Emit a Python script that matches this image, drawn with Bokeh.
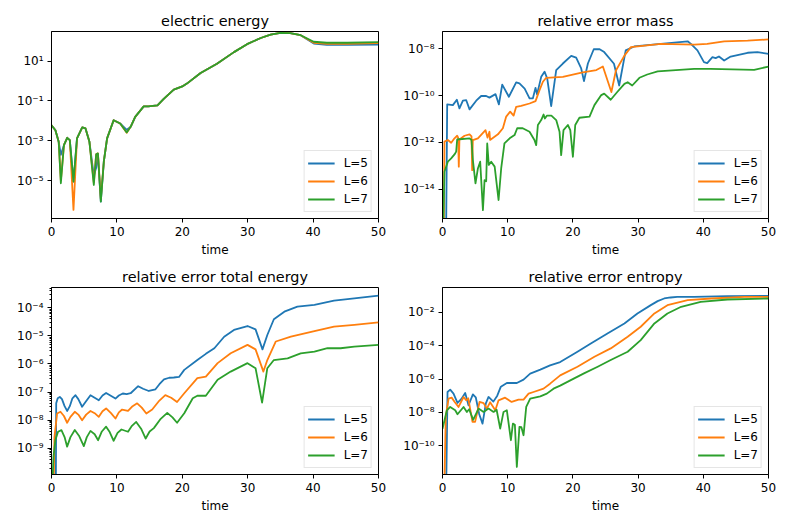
import numpy as np
from bokeh.plotting import figure
from bokeh.models import Range1d, FixedTicker, CustomJSTickFormatter
from bokeh.layouts import gridplot
from bokeh.embed import file_html
from bokeh.resources import INLINE

# ---------------- data (values are log10 of the plotted quantity) ----------------
series_labels = ["L=5", "L=6", "L=7"]
series_colors = ["#1f77b4", "#ff7f0e", "#2ca02c"]
x_tick_values = [0, 10, 20, 30, 40, 50]

# electric energy
ee_t = [0, 0.6, 1.1, 1.43, 1.9, 2.4, 2.8, 3.36, 3.9, 4.7, 5.2, 5.8, 6.47, 6.83, 7.1, 7.54, 8.0, 8.5, 9.5, 10.5,
        11.5, 12.1, 12.8, 14.1, 14.8, 16.2, 17.2, 18.7, 20.0, 20.7, 22.8, 25.3, 27.9, 29.9, 32.0, 33.5, 35.0, 36.5,
        38.1, 40.1, 42.1, 45.2, 50]
ee_L5_log = [-2.22, -2.47, -3.05, -3.7, -3.22, -2.85, -2.97, -5.05, -2.88, -2.33, -2.38, -3.05, -4.75, -4.35, -3.7,
             -6.05, -4.05, -2.88, -1.97, -2.13, -2.45, -2.3, -1.8, -1.27, -1.27, -1.22, -0.88, -0.43, -0.27, -0.13,
             0.4, 0.87, 1.45, 1.85, 2.16, 2.33, 2.42, 2.4, 2.3, 1.88, 1.82, 1.82, 1.83]
ee_L6_log = [-2.22, -2.47, -3.05, -5.0, -3.22, -2.85, -2.97, -6.47, -2.88, -2.33, -2.38, -3.05, -5.1, -3.68, -3.63,
             -5.9, -4.05, -2.88, -1.97, -2.13, -2.6, -2.3, -1.8, -1.27, -1.27, -1.22, -0.88, -0.43, -0.27, -0.13,
             0.4, 0.87, 1.45, 1.85, 2.16, 2.33, 2.42, 2.4, 2.3, 1.92, 1.87, 1.87, 1.9]
ee_L7_log = [-2.22, -2.47, -3.05, -5.13, -3.22, -2.85, -2.97, -5.05, -2.88, -2.33, -2.38, -3.05, -5.22, -3.68, -3.63,
             -6.05, -4.05, -2.88, -1.97, -2.13, -2.58, -2.3, -1.8, -1.27, -1.27, -1.22, -0.88, -0.43, -0.27, -0.13,
             0.4, 0.87, 1.45, 1.85, 2.16, 2.33, 2.42, 2.4, 2.3, 1.97, 1.92, 1.92, 1.95]
ee_ytick_exps = [-5, -3, -1, 1]

# relative error mass
mass_L5_t = [0, 0.55, 0.72, 1.59, 2.2, 2.6, 3.13, 3.64, 4.15, 5.17, 5.93, 6.7, 7.2, 8.13, 8.65, 9.16, 10.18, 11.3,
             11.8, 12.6, 13.35, 13.86, 14.27, 14.5, 15.14, 15.65, 16.06, 16.67, 17.44, 18.46, 19.74, 20.5, 21.27,
             21.7, 22.3, 23.2, 24.1, 24.8, 26.3, 27.1, 28.1, 29.4, 33.5, 37.6, 38.1, 39.1, 40.1, 40.6, 41.4, 41.9,
             42.4, 43.2, 44.2, 46.8, 48.3, 50]
mass_L5_log = [-16, -16, -10.38, -10.41, -10.18, -10.55, -10.22, -10.2, -10.59, -10.22, -10.02, -10.02, -10.09,
               -9.94, -10.38, -9.53, -10.05, -9.44, -9.48, -9.7, -10.12, -10.12, -9.67, -9.95, -9.2, -8.98, -9.27,
               -10.45, -8.91, -8.63, -8.3, -8.38, -8.84, -9.38, -8.63, -8.02, -8.02, -8.14, -8.64, -9.57, -8.07,
               -7.9, -7.79, -7.68, -7.79, -8.07, -8.57, -8.61, -8.36, -8.4, -8.33, -8.5, -8.33, -8.17, -8.14, -8.22]
mass_L6_t = [0, 0.2, 0.3, 0.82, 1.33, 1.84, 2.25, 2.4, 2.5, 2.6, 2.76, 3.38, 4.15, 4.45, 4.55, 4.65, 4.76, 5.43,
             6.6, 6.9, 7.2, 7.3, 8.5, 9.26, 9.77, 10.38, 10.9, 11.3, 12.06, 13.35, 14.27, 14.88, 15.4, 15.9, 18.46,
             21.5, 23.6, 24.6, 25.9, 26.6, 27.9, 28.9, 33.5, 38.6, 40.6, 43.2, 46.8, 50]
mass_L6_log = [-16, -15.5, -11.97, -11.9, -12.02, -11.83, -11.72, -11.8, -13.04, -11.85, -11.85, -11.72, -11.66,
               -11.75, -13.19, -11.9, -11.9, -11.83, -11.48, -11.8, -11.55, -11.9, -11.66, -11.4, -10.9, -10.69,
               -10.86, -10.48, -10.44, -10.34, -10.24, -9.77, -9.41, -9.24, -9.2, -9.01, -8.91, -8.76, -9.85, -8.93,
               -8.29, -7.93, -7.79, -7.82, -7.79, -7.68, -7.65, -7.6]
mass_L7_t = [0, 0.12, 0.3, 0.82, 1.33, 1.84, 2.1, 2.25, 4.15, 4.45, 4.66, 5.06, 5.43, 5.78, 6.2, 6.45, 6.7, 6.86,
             7.1, 7.47, 8.0, 8.6, 9.0, 9.5, 10.3, 11.05, 11.46, 12.3, 13.35, 14.1, 14.37, 14.63, 15.14, 15.5, 15.7,
             16.0, 16.7, 17.44, 17.95, 18.2, 18.56, 19.23, 19.6, 20.0, 20.36, 21.0, 22.55, 23.3, 24.35, 24.8, 25.8,
             26.8, 27.9, 28.4, 29.1, 30.2, 31.4, 33.0, 38.6, 41.1, 47.8, 50]
mass_L7_log = [-14.1, -15.5, -13.26, -12.83, -12.69, -12.52, -12.4, -11.88, -11.83, -11.9, -12.76, -13.76, -13.12,
               -12.83, -14.9, -13.62, -13.67, -12.05, -12.97, -12.83, -13.04, -14.47, -13.12, -12.05, -11.83,
               -11.69, -11.4, -11.4, -11.55, -11.9, -12.12, -11.26, -11.05, -10.81, -10.98, -10.86, -10.86, -11.05,
               -11.55, -12.55, -11.48, -11.26, -11.48, -12.62, -11.26, -10.95, -10.9, -10.41, -9.98, -9.92, -10.18,
               -9.85, -9.5, -9.43, -9.57, -9.24, -9.1, -8.97, -8.86, -8.86, -8.9, -8.76]
mass_ytick_exps = [-14, -12, -10, -8]

# relative error total energy
te_L5_t = [0, 0.65, 0.72, 0.95, 1.27, 1.6, 2.0, 2.39, 2.8, 3.2, 3.67, 4.1, 4.68, 5.2, 5.96, 6.6, 7.23, 7.8, 8.35,
           9.0, 9.78, 10.3, 10.9, 11.5, 12.1, 13.25, 14.0, 14.88, 15.9, 16.5, 17.2, 18.0, 18.7, 19.5, 20.3, 22.3,
           23.6, 24.9, 26.4, 27.9, 29.97, 31.2, 32.26, 33.0, 34.0, 35.6, 37.6, 40.2, 43.2, 46.3, 50]
te_L5_log = [-11, -11, -7.4, -7.22, -7.17, -7.25, -7.5, -7.67, -7.5, -7.22, -7.11, -7.25, -7.52, -7.35, -7.11,
             -7.2, -7.29, -7.12, -7.03, -7.12, -7.23, -7.12, -7.05, -7.07, -7.04, -6.79, -6.88, -6.96, -6.9, -6.72,
             -6.55, -6.49, -6.48, -6.46, -6.21, -5.86, -5.64, -5.44, -5.03, -4.79, -4.65, -4.77, -5.48, -4.97,
             -4.41, -4.14, -3.96, -3.9, -3.75, -3.67, -3.57]
te_L6_t = [0, 0.3, 0.45, 0.86, 1.37, 1.9, 2.39, 2.9, 3.56, 4.1, 4.68, 5.3, 5.96, 6.6, 7.23, 7.8, 8.35, 9.1, 9.78,
           10.3, 10.8, 11.7, 12.4, 13.1, 13.8, 14.5, 15.4, 16.5, 17.4, 18.3, 19.2, 20.3, 22.3, 23.6, 25.4, 27.4,
           29.97, 31.2, 32.4, 33.0, 34.3, 36.6, 40.2, 43.2, 46.3, 50]
te_L6_log = [-11, -11, -8.6, -7.76, -7.7, -7.85, -8.09, -7.88, -7.7, -7.8, -8.0, -7.8, -7.67, -7.75, -7.88, -7.68,
             -7.58, -7.75, -7.94, -7.72, -7.62, -7.67, -7.5, -7.4, -7.55, -7.76, -7.62, -7.3, -7.11, -7.2, -7.35,
             -7.04, -6.5, -6.45, -5.97, -5.62, -5.32, -5.48, -6.27, -5.86, -5.2, -5.03, -4.83, -4.67, -4.61, -4.52]
te_L7_t = [0, 0.1, 0.3, 0.6, 1.0, 1.52, 2.0, 2.39, 2.9, 3.56, 4.2, 4.94, 5.4, 5.96, 6.6, 7.13, 7.7, 8.35, 8.9, 9.5,
           10.1, 10.7, 11.7, 12.3, 12.95, 13.7, 14.4, 15.0, 15.65, 16.7, 17.7, 18.5, 19.2, 20.3, 21.6, 22.3, 23.6,
           25.4, 27.4, 29.97, 31.2, 32.2, 33.0, 34.0, 36.1, 38.1, 40.2, 42.2, 44.2, 46.3, 50]
te_L7_log = [-11, -10.5, -9.3, -8.7, -8.41, -8.35, -8.6, -8.94, -8.6, -8.35, -8.55, -8.92, -8.6, -8.38, -8.5, -8.71,
             -8.4, -8.23, -8.42, -8.73, -8.45, -8.33, -8.41, -8.2, -8.06, -8.3, -8.65, -8.4, -8.28, -7.95, -7.74,
             -7.9, -8.09, -7.75, -7.22, -7.13, -7.13, -6.56, -6.27, -5.97, -6.15, -7.37, -6.15, -5.86, -5.8, -5.62,
             -5.56, -5.44, -5.44, -5.38, -5.32]
te_ytick_exps = [-9, -8, -7, -6, -5, -4]

# relative error entropy
ent_L5_t = [0, 0.55, 0.77, 1.18, 1.69, 2.3, 2.9, 3.48, 3.99, 4.66, 5.1, 5.62, 6.14, 6.65, 7.06, 7.8, 8.4, 8.95,
            9.87, 11.4, 12.43, 13.45, 15.0, 16.5, 18.05, 20.7, 22.75, 25.3, 27.9, 29.9, 31.95, 33.0, 34.0, 35.0,
            36.0, 38.6, 43.7, 50]
ent_L5_log = [-13, -13, -6.78, -6.64, -6.88, -7.44, -7.2, -6.84, -7.58, -6.92, -7.1, -8.1, -8.68, -7.46, -7.08,
              -7.36, -7.0, -6.46, -6.24, -6.24, -6.04, -5.68, -5.44, -5.18, -4.98, -4.36, -3.86, -3.26, -2.66,
              -2.06, -1.56, -1.32, -1.16, -1.1, -1.06, -1.06, -1.02, -1.0]
ent_L6_t = [0, 0.25, 0.5, 0.93, 1.4, 1.9, 2.46, 3.23, 3.63, 3.95, 4.6, 5.0, 5.68, 6.3, 6.8, 7.3, 8.1, 8.6, 9.6,
            10.6, 11.66, 12.43, 13.2, 13.96, 15.5, 16.5, 18.05, 20.7, 23.3, 25.8, 28.4, 30.4, 32.5, 34.5, 37.6,
            41.2, 46.3, 50]
ent_L6_log = [-13, -13, -8.26, -7.18, -7.12, -7.4, -7.68, -7.08, -7.28, -7.16, -8.58, -8.58, -7.38, -7.45, -7.78,
              -7.4, -7.88, -7.28, -7.12, -7.38, -7.24, -7.24, -6.88, -6.78, -6.58, -6.28, -5.78, -5.26, -4.66,
              -4.16, -3.46, -2.86, -2.06, -1.56, -1.26, -1.16, -1.06, -1.06]
ent_L7_t = [0, 0.67, 1.18, 1.95, 2.3, 3.23, 3.74, 4.09, 4.7, 5.53, 6.3, 7.06, 7.83, 8.3, 8.85, 9.36, 9.87, 10.49,
            10.8, 11.1, 11.4, 11.8, 12.1, 12.43, 12.84, 13.45, 15.0, 16.0, 17.03, 18.05, 20.2, 21.7, 23.8, 25.8,
            28.4, 30.4, 32.5, 34.5, 36.6, 39.6, 43.7, 50]
ent_L7_log = [-9.0, -7.88, -7.68, -7.88, -8.12, -7.68, -7.98, -7.82, -8.46, -7.78, -7.98, -7.78, -7.98, -7.85,
              -8.98, -7.98, -7.88, -9.68, -8.68, -8.75, -11.28, -8.88, -8.9, -9.38, -7.68, -7.18, -7.04, -6.88,
              -6.58, -6.4, -5.96, -5.66, -5.26, -4.86, -4.36, -3.66, -2.66, -2.06, -1.66, -1.36, -1.22, -1.16]
ent_ytick_exps = [-10, -8, -6, -4, -2]

FONT = "DejaVu Sans"

SUP_JS = """
const e = Math.round(Math.log10(tick));
const m = {"-":"\u207b","0":"\u2070","1":"\u00b9","2":"\u00b2","3":"\u00b3","4":"\u2074",
           "5":"\u2075","6":"\u2076","7":"\u2077","8":"\u2078","9":"\u2079"};
let s = "";
for (const c of String(e)) { s += m[c]; }
return "10" + s;
"""


def make_panel(title, series, ylog_lo, ylog_hi, ytick_exps, minor, fw, fh, bl, br, bt, bb):
    p = figure(frame_width=fw, frame_height=fh, x_range=Range1d(0, 50),
               y_range=Range1d(10.0 ** ylog_lo, 10.0 ** ylog_hi), y_axis_type="log",
               output_backend="svg", toolbar_location=None,
               min_border_left=bl, min_border_right=br, min_border_top=bt, min_border_bottom=bb)
    for (t, lg), lab, col in zip(series, series_labels, series_colors):
        p.line(np.array(t), 10.0 ** np.array(lg), line_color=col, line_width=1.8,
               line_join="round", legend_label=lab)
    p.grid.visible = False
    p.outline_line_color = "black"
    p.outline_line_width = 1
    p.outline_line_alpha = 1
    p.background_fill_color = "white"
    p.border_fill_color = "white"

    p.title.text = title
    p.title.align = "center"
    p.title.text_font = FONT
    p.title.text_font_size = "14.4px"
    p.title.text_font_style = "normal"
    p.title.text_color = "black"
    p.title.standoff = 6

    p.xaxis.ticker = FixedTicker(ticks=x_tick_values, minor_ticks=[])
    p.xaxis.axis_label = "time"
    p.xaxis.axis_label_text_font = FONT
    p.xaxis.axis_label_text_font_size = "12px"
    p.xaxis.axis_label_text_font_style = "normal"
    p.xaxis.axis_label_text_color = "black"
    p.xaxis.axis_label_standoff = 4

    major = [10.0 ** e for e in ytick_exps]
    minors = []
    if minor:
        for e in range(int(np.floor(ylog_lo)), int(np.ceil(ylog_hi)) + 1):
            for k in range(2, 10):
                minors.append(k * 10.0 ** e)
    p.yaxis.ticker = FixedTicker(ticks=major, minor_ticks=minors)
    p.yaxis.formatter = CustomJSTickFormatter(code=SUP_JS)

    for ax in (p.xaxis[0], p.yaxis[0]):
        ax.axis_line_color = "black"
        ax.axis_line_width = 1
        ax.major_tick_line_color = "black"
        ax.major_tick_in = 0
        ax.major_tick_out = 4
        ax.minor_tick_in = 0
        ax.minor_tick_out = 2
        ax.minor_tick_line_color = "black"
        ax.major_label_text_font = FONT
        ax.major_label_text_font_size = "12px"
        ax.major_label_text_color = "black"
        ax.major_label_standoff = 4

    lg = p.legend[0]
    lg.location = "bottom_right"
    lg.margin = 6
    lg.padding = 3
    lg.spacing = 0
    lg.glyph_width = 27
    lg.glyph_height = 18
    lg.label_height = 18
    lg.label_standoff = 9
    lg.label_text_font = FONT
    lg.label_text_font_size = "12px"
    lg.label_text_color = "black"
    lg.border_line_color = "#cccccc"
    lg.border_line_width = 1
    lg.background_fill_color = "white"
    lg.background_fill_alpha = 0.8
    return p


p1 = make_panel("electric energy",
                [(ee_t, ee_L5_log), (ee_t, ee_L6_log), (ee_t, ee_L7_log)],
                -6.9, 2.485, ee_ytick_exps, False, 327, 187, 51, 16, 31, 45)
p2 = make_panel("relative error mass",
                [(mass_L5_t, mass_L5_log), (mass_L6_t, mass_L6_log), (mass_L7_t, mass_L7_log)],
                -15.26, -7.26, mass_ytick_exps, False, 326, 187, 48, 13, 31, 45)
p3 = make_panel("relative error total energy",
                [(te_L5_t, te_L5_log), (te_L6_t, te_L6_log), (te_L7_t, te_L7_log)],
                -9.93, -3.28, te_ytick_exps, True, 327, 187, 51, 16, 24, 44)
p4 = make_panel("relative error entropy",
                [(ent_L5_t, ent_L5_log), (ent_L6_t, ent_L6_log), (ent_L7_t, ent_L7_log)],
                -11.74, -0.5, ent_ytick_exps, False, 326, 187, 48, 13, 24, 44)

layout = gridplot([[p1, p2], [p3, p4]], toolbar_location=None)
open("out.html", "w").write(file_html(layout, INLINE))
